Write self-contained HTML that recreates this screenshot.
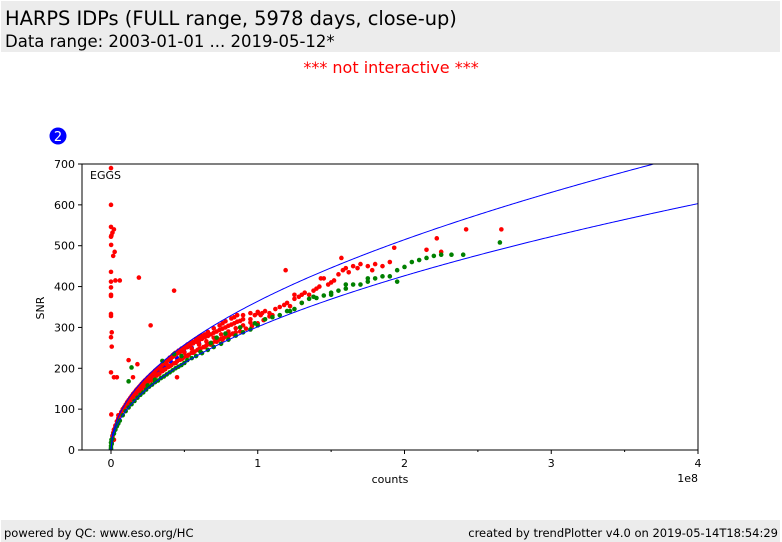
<!DOCTYPE html>
<html><head><meta charset="utf-8">
<style>
body{margin:0;width:782px;height:542px;background:#fff;font-family:"DejaVu Sans","Liberation Sans",sans-serif;overflow:hidden;position:relative}
.hdr{position:absolute;left:1px;top:1px;width:779px;height:51px;background:#ececec}
.t1{position:absolute;left:4px;top:6px;font-size:19.4px;color:#000}
.t2{position:absolute;left:4px;top:31px;font-size:16.5px;color:#000}
.ni{position:absolute;left:0;width:782px;top:58px;text-align:center;color:#f00;font-size:16px}
.ftr{position:absolute;left:1px;top:520px;width:779px;height:22px;background:#ececec;font-size:11.5px}
.fl{position:absolute;left:3px;top:6px}.fr{position:absolute;right:2px;top:6px}
svg{position:absolute;left:0;top:0}
</style></head><body>
<div class="hdr">
<div class="t1">HARPS IDPs (FULL range, 5978 days, close-up)</div>
<div class="t2">Data range: 2003-01-01 ... 2019-05-12*</div>
</div>
<div class="ni">*** not interactive ***</div>
<svg id="chart" width="782" height="542"></svg>
<div class="ftr">
<span class="fl">powered by QC: www.eso.org/HC</span>
<span class="fr">created by trendPlotter v4.0 on 2019-05-14T18:54:29</span>
</div>
<script>
const xTicks=[0,1,2,3,4];
const yTicks=[0,100,200,300,400,500,600,700];
const upperCoef=36.4, lowerCoef=30.15; // SNR per sqrt(1e6 counts)
const redPts=[[0.5,24],[1,33],[1.5,42],[2,50],[3,60],[4,70],[5,78],[6,86],[7,93],[8,99],[9,105],[10,111],[11,117],[12,122],[13,127],[14,132],[15,137],[16,141],[17,146],[18,150],[19,154],[20,158],[21,162],[22,166],[23,170],[24,173],[25,177],[26,180],[27,184],[28,187],[29,190],[30,194],[31,197],[32,200],[33,203],[34,206],[35,209],[36,212],[37,214],[38,217],[39,220],[40,223],[41,225],[42,228],[43,230],[44,233],[45,236],[46,238],[47,240],[48,243],[49,245],[50,248],[52,252],[54,256],[56,261],[58,265],[60,268],[62,272],[64,276],[66,279],[68,283],[70,287],[72,290],[74,294],[76,297],[78,300],[80,304],[82,307],[84,310],[86,314],[88,316],[90,320],
[3,55],[5,72],[7,86],[9,98],[11,108],[13,118],[15,127],[17,135],[19,143],[21,150],[23,157],[25,164],[27,170],[29,176],[31,182],[33,187],[35,193],[37,198],[39,203],[41,207],[43,212],[45,217],[47,221],[49,225],[51,229],[53,233],[55,238],[57,241],[59,245],[61,248],[63,252],[65,256],[67,259],[69,262],[71,266],[73,269],[75,272],[77,275],[79,278],[81,282],[83,285],[85,288],
[20,145],[24,160],[28,172],[32,185],[36,196],[40,205],[44,213],[48,222],[52,230],[56,238],[60,247],[64,252],[68,258],[72,265],[76,270],[80,278],[84,282],[88,290],[92,297],[96,303],[100,310],[104,318],[108,327],
[40,226],[42,232],[44,238],[46,243],[48,248],[50,252],[52,258],[54,262],[56,265],[58,272],[60,277],[62,280],[64,283],[66,289],[70,298],[74,305],[76,310],[78,315],[82,322],[84,325],[86,330],[90,330],[95,335],[100,338],[103,335],
[50,238],[55,248],[60,258],[65,266],[70,275],[75,283],[80,290],[85,298],[90,305],[95,312],[12,118],[16,135],[22,158],[26,172],[30,186],[34,198],[38,210],
[95,320],[98,330],[100,335],[102,330],[105,340],[108,335],[110,330],[112,345],[115,350],[118,355],[120,360],[119,440],[122,352],[125,370],[128,375],[130,380],[132,385],[135,380],[138,390],[140,395],[142,400],[145,420],[148,405],[150,410],[152,415],[155,430],[158,440],[160,445],[162,435],[165,450],[168,445],[170,455],[175,450],[178,440],[180,455],[185,450],[190,460],[193,495],[215,490],[222,518],[225,485],[242,540],[266,540],[157,470],[143,420],[130,360],[125,380],
[0,690],[0,600],[0,546],[0,522],[0.3,525],[1,532],[2,540],[0.1,502],[1.5,475],[2.5,485],[0,436],[0,412],[0,398],[0,380],[0,377],[0,333],[0,328],[0.5,288],[0,276],[0.5,253],[0,190],[0.2,87],[1,24],[2,25],[2,178],[4,178],[3,415],[6,415],[12,220],[19,422],[15,178],[27,305],[43,390],[45,178],[18,210],[8,100],[5,85]];
const greenPts=[[0,5],[0,10],[0,18],[0.3,25],[0.5,15],[1,28],[2,40],[3,50],[4,58],[5,65],[6,72],[8,85],[10,95],[12,104],[14,112],[16,120],[18,128],[20,135],[22,141],[24,148],[26,155],[28,160],[30,166],[32,170],[34,176],[36,180],[38,185],[40,190],[42,195],[44,200],[46,204],[48,208],[50,213],[52,220],[55,225],[58,230],[62,237],[66,245],[70,252],[75,260],[80,270],[85,280],[90,288],[95,295],[100,305],[12,168],[14,202],[35,218],[43,235],[25,158],[30,172],[48,230],[61,240],[68,262],[72,275],[78,285],[88,300],[98,310],[105,320],[110,325],[115,330],[120,340],[125,345],[130,360],[135,370],[140,372],[145,378],[150,385],[155,390],[160,395],[165,405],[170,405],[175,412],[180,420],[185,425],[190,425],[195,440],[200,448],[205,460],[210,465],[215,470],[220,475],[225,478],[232,478],[240,478],[265,508],[122,340],[138,375],[150,380],[175,420],[195,412],[160,405]];
const bluePts=[[0,2],[0.5,20],[1,35],[2,45],[3,55],[5,75],[7,88],[9,100],[11,112],[14,125],[17,138],[20,150],[23,160],[26,172],[29,182],[33,195],[37,205],[41,215],[45,225],[50,240],[55,250],[60,260],[35,205],[40,220],[46,240],[30,185],[25,170],[52,252],[28,175],[15,130],[19,145],[22,155],[32,192]];

const L=82,R=698,T=164,B=450;
const xmin=-0.1976,xmax=4,ymax=700;
const X=v=>L+(v-xmin)/(xmax-xmin)*(R-L);   // v in 1e8
const Y=v=>B-v/ymax*(B-T);
const svg=document.getElementById('chart');
const NS='http://www.w3.org/2000/svg';
function mk(tag,attrs,parent){const e=document.createElementNS(NS,tag);for(const k in attrs)e.setAttribute(k,attrs[k]);(parent||svg).appendChild(e);return e;}

const bc=mk('circle',{cx:58,cy:136,r:8.5,fill:'#0000ff'});


const bt=mk('text',{x:58,y:141,'text-anchor':'middle',fill:'#fff','font-size':13});
bt.textContent='2';



const clip=mk('clipPath',{id:'pc'});mk('rect',{x:L,y:T,width:R-L,height:B-T},clip);
const pg=mk('g',{'clip-path':'url(#pc)'});



function curve(coef,name){
  let d='';
  for(let i=0;i<=400;i++){const c=i*(xmax*100/400);const px=X(c/100);const py=Y(coef*Math.sqrt(c));d+=(i?'L':'M')+px.toFixed(2)+','+py.toFixed(2);}
  const p=mk('path',{d:d,fill:'none',stroke:'#0000ff','stroke-width':1},pg);
  
  
}
function dots(arr,col,name){
  const g=mk('g',{fill:col},pg);
  
  
  arr.forEach(p=>{const c=mk('circle',{cx:X(p[0]/100),cy:Y(p[1]),r:2.3},g);
    
    });
}
dots(bluePts,'#0000ff','series-blue');
dots(redPts,'#ff0000','series-red');
dots(greenPts,'#008000','series-green');
curve(upperCoef,'upper-limit-curve');
curve(lowerCoef,'lower-limit-curve');

const fr=mk('rect',{x:L,y:T,width:R-L,height:B-T,fill:'none',stroke:'#000','stroke-width':1});



const eg=mk('text',{x:90,y:179,'font-size':11});eg.textContent='EGGS';



xTicks.forEach(t=>{const x=X(t);mk('line',{x1:x,x2:x,y1:B,y2:B+4,stroke:'#000'});
  const tx=mk('text',{x:x,y:B+17,'text-anchor':'middle','font-size':11});tx.textContent=t;
  
  
  if(t<4){const m=X(t+0.5);mk('line',{x1:m,x2:m,y1:B,y2:B+2,stroke:'#000'});}
});
yTicks.forEach(t=>{const y=Y(t);mk('line',{x1:L-4,x2:L,y1:y,y2:y,stroke:'#000'});
  const tx=mk('text',{x:L-7,y:y+4,'text-anchor':'end','font-size':11});tx.textContent=t;
  
  
});
const xl=mk('text',{x:390,y:483,'text-anchor':'middle','font-size':11});xl.textContent='counts';


const ex=mk('text',{x:698,y:482,'text-anchor':'end','font-size':11});ex.textContent='1e8';


const yl=mk('text',{x:44,y:308,'text-anchor':'middle','font-size':11,transform:'rotate(-90 44 308)'});yl.textContent='SNR';


</script>
</body></html>
